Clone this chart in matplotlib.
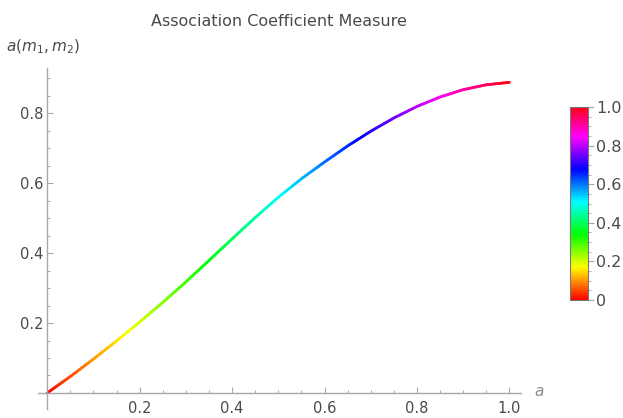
import numpy as np
import matplotlib
matplotlib.use("Agg")
import matplotlib.pyplot as plt
from matplotlib.collections import LineCollection
from matplotlib.colors import Normalize
from matplotlib.cm import ScalarMappable

# ---- data ----
a_vals = [0.00, 0.05, 0.10, 0.15, 0.20, 0.25, 0.30, 0.35, 0.40, 0.45, 0.50,
          0.55, 0.60, 0.65, 0.70, 0.75, 0.80, 0.85, 0.90, 0.95, 1.00]
coef_vals = [0.000, 0.047, 0.097, 0.149, 0.203, 0.259, 0.318, 0.379, 0.441,
             0.502, 0.560, 0.613, 0.661, 0.707, 0.749, 0.787, 0.820, 0.847,
             0.868, 0.882, 0.889]
x_ticks = [0.2, 0.4, 0.6, 0.8, 1.0]
x_ticklabels = ["0.2", "0.4", "0.6", "0.8", "1.0"]
y_ticks = [0.2, 0.4, 0.6, 0.8]
y_ticklabels = ["0.2", "0.4", "0.6", "0.8"]
cb_ticks = [0, 0.2, 0.4, 0.6, 0.8, 1.0]
cb_ticklabels = ["0", "0.2", "0.4", "0.6", "0.8", "1.0"]
title = "Association Coefficient Measure"

W, H = 623, 418
fig = plt.figure(figsize=(W / 100, H / 100), dpi=100)
plt.rcParams['font.family'] = ['DejaVu Sans']
plt.rcParams['mathtext.fontset'] = 'dejavusans'

axis_col = '#a8a8a8'
text_col = '#4a4a4a'

ax = fig.add_axes([38 / W, 9 / H, 483 / W, 341 / H])
ax.set_xlim(-0.02, 1.025)
ax.set_ylim(-0.046, 0.93)

# coloured curve (each straight segment subdivided only for colour gradation)
x = np.asarray(a_vals)
y = np.asarray(coef_vals)
segs, cvals = [], []
nsub = 12
for i in range(len(x) - 1):
    for k in range(nsub):
        t0, t1 = k / nsub, (k + 1) / nsub
        p0 = (x[i] + (x[i + 1] - x[i]) * t0, y[i] + (y[i + 1] - y[i]) * t0)
        p1 = (x[i] + (x[i + 1] - x[i]) * t1, y[i] + (y[i + 1] - y[i]) * t1)
        segs.append([p0, p1])
        cvals.append((p0[0] + p1[0]) / 2)
norm = Normalize(0, 1)
lc = LineCollection(segs, cmap='hsv', norm=norm, linewidths=2.0,
                    capstyle='round', joinstyle='round')
lc.set_array(np.asarray(cvals))
ax.add_collection(lc)

for s in ['top', 'right']:
    ax.spines[s].set_visible(False)
for s in ['left', 'bottom']:
    ax.spines[s].set_position(('data', 0))
    ax.spines[s].set_color(axis_col)
    ax.spines[s].set_linewidth(1.0)

ax.set_xticks(x_ticks)
ax.set_xticklabels(x_ticklabels)
ax.set_yticks(y_ticks)
ax.set_yticklabels(y_ticklabels)
ax.set_xticks(np.arange(0.05, 1.001, 0.05), minor=True)
ax.set_yticks(np.arange(0.05, 0.901, 0.05), minor=True)
ax.tick_params(which='major', direction='in', length=4, width=0.8,
               color=axis_col, labelcolor=text_col, labelsize=10.5)
ax.tick_params(which='minor', direction='in', length=2.2, width=0.7,
               color=axis_col)
ax.tick_params(axis='x', which='major', pad=6)
ax.tick_params(axis='y', which='major', pad=3)
ax.patch.set_alpha(0)

fig.text(279 / W, 1 - 22 / H, title, ha='center', va='center',
         fontsize=11.5, color=text_col)
fig.text(6 / W, 1 - 47 / H, r'$a(m_1, m_2)$', ha='left', va='center',
         fontsize=11, color=text_col)
fig.text(534 / W, 1 - 391 / H, r'$a$', ha='left', va='center',
         fontsize=11, color='#8a8a8a')

# colour bar
cax = fig.add_axes([570 / W, (H - 300) / H, 18 / W, 193 / H])
sm = ScalarMappable(norm=norm, cmap='hsv')
cb = fig.colorbar(sm, cax=cax, ticks=cb_ticks)
cb.ax.set_yticklabels(cb_ticklabels)
cb.ax.yaxis.set_minor_locator(matplotlib.ticker.MultipleLocator(0.05))
cb.ax.tick_params(which='major', direction='out', length=4, width=0.8,
                  color=axis_col, labelcolor=text_col, labelsize=11.5, pad=2)
cb.ax.tick_params(which='minor', direction='out', length=2, width=0.6,
                  color=axis_col)
cb.outline.set_edgecolor('#777777')
cb.outline.set_linewidth(0.8)

fig.savefig('out.png', dpi=100)
